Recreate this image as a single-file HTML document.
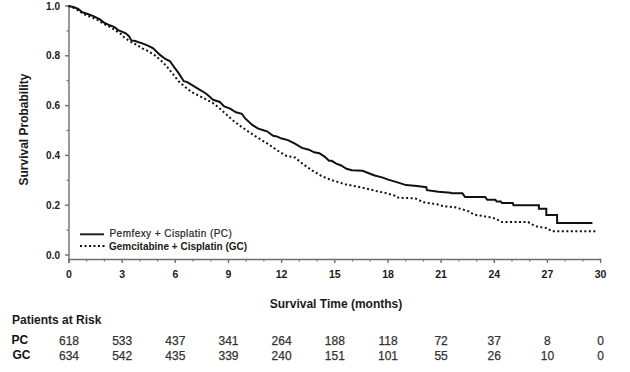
<!DOCTYPE html>
<html><head><meta charset="utf-8"><style>
html,body{margin:0;padding:0;background:#fff;width:630px;height:372px;overflow:hidden}
svg{display:block}
text{font-family:"Liberation Sans",sans-serif;fill:#1a1a1a}
.tl{font-size:10.5px;font-weight:bold}
.tly{font-size:10px;font-weight:bold}
.al{font-size:12px;font-weight:bold}
.lg1{font-size:10px;fill:#222;letter-spacing:0.45px;stroke:#222;stroke-width:0.2px}
.lg2{font-size:10px;font-weight:bold}
.rk{font-size:12px;font-weight:bold;fill:#111}
.nm{font-size:12px;fill:#333;stroke:#333;stroke-width:0.25px}
</style></head><body>
<svg width="630" height="372" viewBox="0 0 630 372">
<line x1="69" y1="5.5" x2="69" y2="263" stroke="#6e6e6e" stroke-width="1.4"/>
<line x1="68.3" y1="259.5" x2="601.3" y2="259.5" stroke="#6e6e6e" stroke-width="1.4"/>
<line x1="65" y1="255.0" x2="69" y2="255.0" stroke="#6e6e6e" stroke-width="1.4"/>
<text x="60" y="258.6" text-anchor="end" class="tly">0.0</text>
<line x1="65" y1="205.2" x2="69" y2="205.2" stroke="#6e6e6e" stroke-width="1.4"/>
<text x="60" y="208.8" text-anchor="end" class="tly">0.2</text>
<line x1="65" y1="155.4" x2="69" y2="155.4" stroke="#6e6e6e" stroke-width="1.4"/>
<text x="60" y="159.0" text-anchor="end" class="tly">0.4</text>
<line x1="65" y1="105.6" x2="69" y2="105.6" stroke="#6e6e6e" stroke-width="1.4"/>
<text x="60" y="109.2" text-anchor="end" class="tly">0.6</text>
<line x1="65" y1="55.8" x2="69" y2="55.8" stroke="#6e6e6e" stroke-width="1.4"/>
<text x="60" y="59.4" text-anchor="end" class="tly">0.8</text>
<line x1="65" y1="6.0" x2="69" y2="6.0" stroke="#6e6e6e" stroke-width="1.4"/>
<text x="60" y="9.6" text-anchor="end" class="tly">1.0</text>
<line x1="66.5" y1="230.1" x2="69" y2="230.1" stroke="#6e6e6e" stroke-width="1.2"/>
<line x1="66.5" y1="180.3" x2="69" y2="180.3" stroke="#6e6e6e" stroke-width="1.2"/>
<line x1="66.5" y1="130.5" x2="69" y2="130.5" stroke="#6e6e6e" stroke-width="1.2"/>
<line x1="66.5" y1="80.7" x2="69" y2="80.7" stroke="#6e6e6e" stroke-width="1.2"/>
<line x1="66.5" y1="30.9" x2="69" y2="30.9" stroke="#6e6e6e" stroke-width="1.2"/>
<line x1="69.0" y1="259" x2="69.0" y2="263" stroke="#6e6e6e" stroke-width="1.4"/>
<text x="69.0" y="277.5" text-anchor="middle" class="tl">0</text>
<line x1="86.7" y1="259" x2="86.7" y2="261.5" stroke="#6e6e6e" stroke-width="1.2"/>
<line x1="104.4" y1="259" x2="104.4" y2="261.5" stroke="#6e6e6e" stroke-width="1.2"/>
<line x1="122.2" y1="259" x2="122.2" y2="263" stroke="#6e6e6e" stroke-width="1.4"/>
<text x="122.2" y="277.5" text-anchor="middle" class="tl">3</text>
<line x1="139.9" y1="259" x2="139.9" y2="261.5" stroke="#6e6e6e" stroke-width="1.2"/>
<line x1="157.6" y1="259" x2="157.6" y2="261.5" stroke="#6e6e6e" stroke-width="1.2"/>
<line x1="175.3" y1="259" x2="175.3" y2="263" stroke="#6e6e6e" stroke-width="1.4"/>
<text x="175.3" y="277.5" text-anchor="middle" class="tl">6</text>
<line x1="193.0" y1="259" x2="193.0" y2="261.5" stroke="#6e6e6e" stroke-width="1.2"/>
<line x1="210.8" y1="259" x2="210.8" y2="261.5" stroke="#6e6e6e" stroke-width="1.2"/>
<line x1="228.5" y1="259" x2="228.5" y2="263" stroke="#6e6e6e" stroke-width="1.4"/>
<text x="228.5" y="277.5" text-anchor="middle" class="tl">9</text>
<line x1="246.2" y1="259" x2="246.2" y2="261.5" stroke="#6e6e6e" stroke-width="1.2"/>
<line x1="263.9" y1="259" x2="263.9" y2="261.5" stroke="#6e6e6e" stroke-width="1.2"/>
<line x1="281.6" y1="259" x2="281.6" y2="263" stroke="#6e6e6e" stroke-width="1.4"/>
<text x="281.6" y="277.5" text-anchor="middle" class="tl">12</text>
<line x1="299.4" y1="259" x2="299.4" y2="261.5" stroke="#6e6e6e" stroke-width="1.2"/>
<line x1="317.1" y1="259" x2="317.1" y2="261.5" stroke="#6e6e6e" stroke-width="1.2"/>
<line x1="334.8" y1="259" x2="334.8" y2="263" stroke="#6e6e6e" stroke-width="1.4"/>
<text x="334.8" y="277.5" text-anchor="middle" class="tl">15</text>
<line x1="352.5" y1="259" x2="352.5" y2="261.5" stroke="#6e6e6e" stroke-width="1.2"/>
<line x1="370.2" y1="259" x2="370.2" y2="261.5" stroke="#6e6e6e" stroke-width="1.2"/>
<line x1="388.0" y1="259" x2="388.0" y2="263" stroke="#6e6e6e" stroke-width="1.4"/>
<text x="388.0" y="277.5" text-anchor="middle" class="tl">18</text>
<line x1="405.7" y1="259" x2="405.7" y2="261.5" stroke="#6e6e6e" stroke-width="1.2"/>
<line x1="423.4" y1="259" x2="423.4" y2="261.5" stroke="#6e6e6e" stroke-width="1.2"/>
<line x1="441.1" y1="259" x2="441.1" y2="263" stroke="#6e6e6e" stroke-width="1.4"/>
<text x="441.1" y="277.5" text-anchor="middle" class="tl">21</text>
<line x1="458.8" y1="259" x2="458.8" y2="261.5" stroke="#6e6e6e" stroke-width="1.2"/>
<line x1="476.6" y1="259" x2="476.6" y2="261.5" stroke="#6e6e6e" stroke-width="1.2"/>
<line x1="494.3" y1="259" x2="494.3" y2="263" stroke="#6e6e6e" stroke-width="1.4"/>
<text x="494.3" y="277.5" text-anchor="middle" class="tl">24</text>
<line x1="512.0" y1="259" x2="512.0" y2="261.5" stroke="#6e6e6e" stroke-width="1.2"/>
<line x1="529.7" y1="259" x2="529.7" y2="261.5" stroke="#6e6e6e" stroke-width="1.2"/>
<line x1="547.4" y1="259" x2="547.4" y2="263" stroke="#6e6e6e" stroke-width="1.4"/>
<text x="547.4" y="277.5" text-anchor="middle" class="tl">27</text>
<line x1="565.2" y1="259" x2="565.2" y2="261.5" stroke="#6e6e6e" stroke-width="1.2"/>
<line x1="582.9" y1="259" x2="582.9" y2="261.5" stroke="#6e6e6e" stroke-width="1.2"/>
<line x1="600.6" y1="259" x2="600.6" y2="263" stroke="#6e6e6e" stroke-width="1.4"/>
<text x="600.6" y="277.5" text-anchor="middle" class="tl">30</text>
<polyline points="68.4,6.0 74.9,8.3 81.3,12.5 85.4,14.9 92.2,17.5 98.0,20.2 104.0,24.0 110.9,27.3 115.7,30.6 121.2,34.2 124.2,37.4 127.8,39.8 131.4,42.2 136.3,44.6 142.3,48.3 148.4,51.3 154.4,54.9 160.9,60.5 166.1,65.7 172.7,73.8 178.6,81.2 184.5,86.4 191.9,92.3 199.3,96.0 205.2,98.9 212.4,102.7 218.3,107.2 225.7,113.8 233.1,120.5 241.9,127.1 249.3,132.3 259.7,138.9 268.7,144.4 277.5,150.5 286.2,155.8 294.9,157.5 303.6,164.5 312.4,170.6 321.1,175.8 330.0,179.6 345.2,184.3 355.9,186.3 365.3,188.3 376.1,191.0 385.5,193.0 395.0,195.7 398.1,197.6 415.5,198.5 423.6,202.3 437.0,204.3 443.8,206.3 455.0,207.2 461.7,209.2 468.4,211.2 473.8,214.6 481.9,215.9 490.0,217.3 495.3,218.6 502.0,222.0 528.1,222.0 530.8,224.0 537.5,226.7 547.0,228.1 551.7,231.2 597.0,231.2" fill="none" stroke="#111" stroke-width="2" stroke-dasharray="2 2.5"/>
<polyline points="68.4,6.0 74.1,7.3 78.1,8.9 82.1,12.1 87.0,13.7 93.4,16.1 99.9,19.4 103.6,22.3 109.7,25.3 114.5,27.1 118.1,30.1 125.4,33.1 129.0,36.2 131.4,40.4 135.1,41.0 142.3,43.4 148.4,45.8 153.2,48.3 159.4,54.4 165.3,59.0 169.8,61.0 174.2,67.2 178.6,73.1 183.8,81.2 186.8,81.9 190.5,84.1 197.8,88.6 205.2,93.0 208.0,95.3 213.1,99.8 219.8,102.0 224.2,106.4 230.1,108.6 236.0,112.3 241.9,113.8 244.9,118.2 252.3,124.9 258.2,128.6 265.0,130.8 267.0,131.3 273.1,135.7 277.5,136.6 280.9,138.3 287.9,140.1 294.9,143.6 301.9,147.9 308.9,149.7 314.1,152.3 319.3,153.2 324.6,156.6 329.0,160.8 331.7,160.8 335.8,163.4 341.1,165.5 346.5,168.8 351.9,170.2 362.6,170.8 369.4,173.5 374.7,175.5 382.8,177.6 388.2,179.6 396.7,182.1 406.1,185.1 416.9,185.9 426.3,187.2 427.0,190.2 438.4,191.8 450.5,192.8 451.8,193.3 462.4,193.3 465.1,197.1 485.2,197.1 487.3,199.8 495.3,199.8 496.7,201.4 500.7,201.4 502.0,203.1 512.8,203.1 513.5,205.2 538.9,205.2 538.9,208.8 546.3,208.8 546.3,215.0 557.1,215.0 557.1,223.1 592.4,223.1" fill="none" stroke="#111" stroke-width="2"/>
<line x1="80" y1="234.3" x2="104" y2="234.3" stroke="#222" stroke-width="2"/>
<line x1="80" y1="246.1" x2="105" y2="246.1" stroke="#111" stroke-width="2" stroke-dasharray="2 2.5"/>
<text x="109.5" y="236.8" class="lg1">Pemfexy + Cisplatin (PC)</text>
<text x="109" y="249.5" class="lg2">Gemcitabine + Cisplatin (GC)</text>
<text transform="translate(28.4,185.5) rotate(-90)" class="al">Survival Probability</text>
<text x="336" y="308.2" text-anchor="middle" class="al">Survival Time (months)</text>
<text x="12" y="323.8" class="al">Patients at Risk</text>
<text x="11.5" y="343.7" class="rk">PC</text>
<text x="12.5" y="359" class="rk">GC</text>
<text x="69.0" y="344.6" text-anchor="middle" class="nm">618</text>
<text x="69.0" y="359.9" text-anchor="middle" class="nm">634</text>
<text x="122.2" y="344.6" text-anchor="middle" class="nm">533</text>
<text x="122.2" y="359.9" text-anchor="middle" class="nm">542</text>
<text x="175.3" y="344.6" text-anchor="middle" class="nm">437</text>
<text x="175.3" y="359.9" text-anchor="middle" class="nm">435</text>
<text x="228.5" y="344.6" text-anchor="middle" class="nm">341</text>
<text x="228.5" y="359.9" text-anchor="middle" class="nm">339</text>
<text x="281.6" y="344.6" text-anchor="middle" class="nm">264</text>
<text x="281.6" y="359.9" text-anchor="middle" class="nm">240</text>
<text x="334.8" y="344.6" text-anchor="middle" class="nm">188</text>
<text x="334.8" y="359.9" text-anchor="middle" class="nm">151</text>
<text x="388.0" y="344.6" text-anchor="middle" class="nm">118</text>
<text x="388.0" y="359.9" text-anchor="middle" class="nm">101</text>
<text x="441.1" y="344.6" text-anchor="middle" class="nm">72</text>
<text x="441.1" y="359.9" text-anchor="middle" class="nm">55</text>
<text x="494.3" y="344.6" text-anchor="middle" class="nm">37</text>
<text x="494.3" y="359.9" text-anchor="middle" class="nm">26</text>
<text x="547.4" y="344.6" text-anchor="middle" class="nm">8</text>
<text x="547.4" y="359.9" text-anchor="middle" class="nm">10</text>
<text x="600.6" y="344.6" text-anchor="middle" class="nm">0</text>
<text x="600.6" y="359.9" text-anchor="middle" class="nm">0</text>
</svg>
</body></html>
